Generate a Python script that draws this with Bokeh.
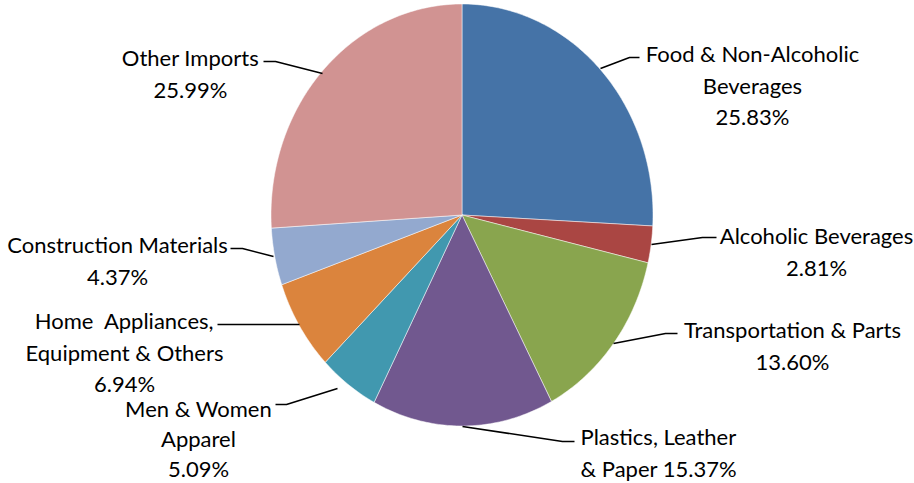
import numpy as np
from bokeh.plotting import figure
from bokeh.models import Range1d, ColumnDataSource
from bokeh.embed import file_html
from bokeh.resources import INLINE
from bokeh.core.properties import value

# ---- data ----
categories = ["Food & Non-Alcoholic Beverages", "Alcoholic Beverages", "Transportation & Parts",
              "Plastics, Leather & Paper", "Men & Women Apparel",
              "Home Appliances, Equipment & Others", "Construction Materials", "Other Imports"]
shares = [25.83, 2.81, 13.60, 15.37, 5.09, 6.94, 4.37, 25.99]
colors = ["#4573A7", "#AA4643", "#89A54E", "#71588F", "#4198AF", "#DB843D", "#93A9CF", "#D19392"]
label_lines = [
    ["Food & Non-Alcoholic", "Beverages", "25.83%"],
    ["Alcoholic Beverages", "2.81%"],
    ["Transportation & Parts", "13.60%"],
    ["Plastics, Leather", "& Paper 15.37%"],
    ["Men & Women", "Apparel", "5.09%"],
    ["Home\u00a0 Appliances,", "Equipment & Others", "6.94%"],
    ["Construction Materials", "4.37%"],
    ["Other Imports", "25.99%"],
]

# ---- layout (screen-pixel data coordinates) ----
W, H = 914, 483
cx, cy, rx, ry = 461.5, 214.5, 191, 211
label_pos = [  # (x, first baseline, align, line spacing)
    (752, 53, "center", 31.5), (816, 235, "center", 31.5), (792, 329, "center", 31.5),
    (580, 436, "left", 31.5), (198, 408, "center", 30.0), (124, 320, "center", 31.5),
    (117, 244, "center", 31.5), (190, 57, "center", 31.5),
]
leaders = [
    [(600, 68), (629, 57), (639, 57)],
    [(651, 244), (702, 237), (716, 237)],
    [(613, 343), (665, 333), (677, 333)],
    [(462, 426), (562, 441), (574, 441)],
    [(337, 388), (286, 404), (275, 404)],
    [(299, 324), (217, 324)],
    [(273, 256), (242, 248), (230, 248)],
    [(322, 73), (275, 61), (263, 61)],
]

p = figure(width=W, height=H, output_backend="svg", toolbar_location=None,
           x_range=Range1d(0, W), y_range=Range1d(H, 0),
           min_border=0)
p.axis.visible = False
p.grid.visible = False
p.outline_line_color = None

total = sum(shares)
start = 0.0
xs, ys = [], []
for s in shares:
    a0 = start / total * 2 * np.pi
    a1 = (start + s) / total * 2 * np.pi
    t = np.linspace(a0, a1, max(8, int(s * 4)))
    px = [cx] + list(cx + rx * np.sin(t)) + [cx]
    py = [cy] + list(cy - ry * np.cos(t)) + [cy]
    xs.append(px)
    ys.append(py)
    start += s
p.patches(xs, ys, fill_color=colors, line_color="white", line_width=0.5)

for seg in leaders:
    p.line([q[0] for q in seg], [q[1] for q in seg], line_color="black", line_width=1.5)

tx, ty, tt, ta = [], [], [], []
for (x0, y0, al, lh), lines in zip(label_pos, label_lines):
    for i, ln in enumerate(lines):
        tx.append(x0)
        ty.append(y0 + i * lh)
        tt.append(ln)
        ta.append(al)
src = ColumnDataSource(dict(x=tx, y=ty, text=tt, align=ta))
p.text(x="x", y="y", text="text", source=src, text_align="align", text_baseline="alphabetic",
       text_font=value("Lato"), text_font_size="22px", text_color="#000000")

open("out.html", "w").write(file_html(p, INLINE))
